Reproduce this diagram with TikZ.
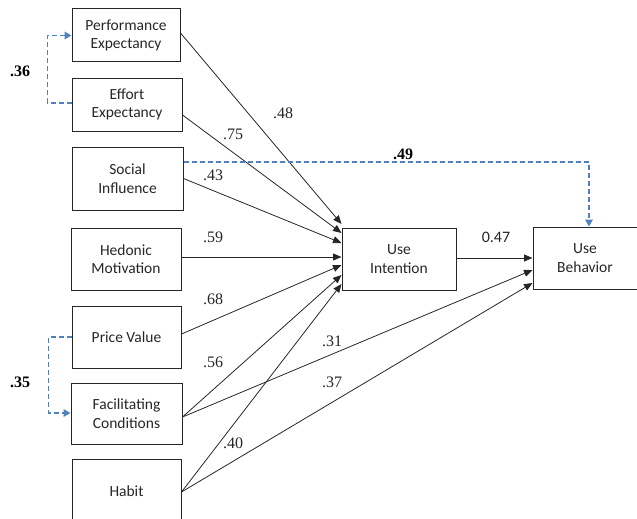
\documentclass[tikz,border=0pt]{standalone}
\usepackage{fontspec}
\setmainfont{Carlito}
\newfontfamily\numfont{Liberation Serif}
\usetikzlibrary{arrows.meta}
\definecolor{dashblue}{RGB}{79,129,189}
\definecolor{boxtext}{RGB}{38,38,38}
\begin{document}
\begin{tikzpicture}[x=1pt,y=-1pt,
  box/.style={draw=black!85,line width=1pt,inner sep=0pt,align=center,font=\fontsize{15.5}{18.5}\selectfont,text=boxtext},
  path/.style={draw=black!85,line width=0.8pt,-{Triangle[length=8.5pt,width=7pt]}},
  cov/.style={draw=dashblue,line width=1.8pt,dash pattern=on 5pt off 3pt,-{Triangle[length=7pt,width=7.5pt]}},
  coef/.style={font=\numfont\fontsize{16}{18}\selectfont,text=black!85,inner sep=0pt},
  bcoef/.style={font=\numfont\fontsize{16}{18}\selectfont\bfseries,text=black,inner sep=0pt}]
\useasboundingbox (0,0) rectangle (637,519);
% boxes
\node[box,minimum width=108pt,minimum height=53pt] (PE) at (126,35.5) {Performance\\Expectancy};
\node[box,minimum width=110pt,minimum height=53pt] (EE) at (127,104.5) {Effort\\Expectancy};
\node[box,minimum width=111pt,minimum height=63pt] (SI) at (127.5,178.5) {Social\\Influence};
\node[box,minimum width=110pt,minimum height=62pt] (HM) at (126,259) {Hedonic\\Motivation};
\node[box,minimum width=109pt,minimum height=62pt] (PV) at (126.5,337) {Price Value};
\node[box,minimum width=111pt,minimum height=61pt] (FC) at (126.5,413.5) {Facilitating\\Conditions};
\node[box,minimum width=109pt,minimum height=64pt] (HB) at (126.5,491) {Habit};
\node[box,minimum width=114pt,minimum height=62pt] (UI) at (399,259) {Use\\Intention};
\node[box,minimum width=104pt,minimum height=62pt] (UB) at (585,258) {Use\\Behavior};
% paths to Use Intention
\draw[path] ([yshift=2.5pt]PE.east) -- ([yshift=35pt]UI.west);
\draw[path] ([yshift=-10.5pt]EE.east) -- ([yshift=26pt]UI.west);
\draw[path] (SI.east) -- ([yshift=16pt]UI.west);
\draw[path] ([yshift=2pt]HM.east) -- ([yshift=2pt]UI.west);
\draw[path] ([yshift=3pt]PV.east) -- ([yshift=-6pt]UI.west);
\draw[path] ([yshift=-3.5pt]FC.east) -- ([yshift=-16pt]UI.west);
\draw[path] ([yshift=-1pt]HB.east) -- ([yshift=-25pt]UI.west);
% paths to Use Behavior
\draw[path] ([yshift=1pt]UI.east) -- ([yshift=0pt]UB.west);
\draw[path] ([yshift=-3.5pt]FC.east) -- ([yshift=-12pt]UB.west);
\draw[path] ([yshift=-1pt]HB.east) -- ([yshift=-25pt]UB.west);
% dashed
\draw[cov] ([yshift=16.5pt]SI.east) -| ([xshift=4pt]UB.north);
\draw[cov] ([yshift=1.5pt]EE.west) -- ++(-24,0) |- (PE.west);
\draw[cov] (PV.west) -- ++(-23,0) |- ([yshift=0.5pt]FC.west);
% coefficients
\node[coef] (c48) at (283,113) {.48};
\node[coef] (c75) at (233,134) {.75};
\node[coef] (c43) at (213,175) {.43};
\node[coef] (c59) at (213,237) {.59};
\node[coef] (c68) at (213,299) {.68};
\node[coef] (c56) at (213,362) {.56};
\node[coef] (c40) at (233,443) {.40};
\node[coef] (c31) at (332,341) {.31};
\node[coef] (c37) at (332,382) {.37};
\node[inner sep=0pt,font=\fontsize{16}{18}\selectfont,text=black!85] (c47) at (496,237) {0.47};
\node[bcoef] (c49) at (403,154) {.49};
\node[bcoef] (c36) at (20,71) {.36};
\node[bcoef] (c35) at (20,382) {.35};
\end{tikzpicture}
\end{document}
